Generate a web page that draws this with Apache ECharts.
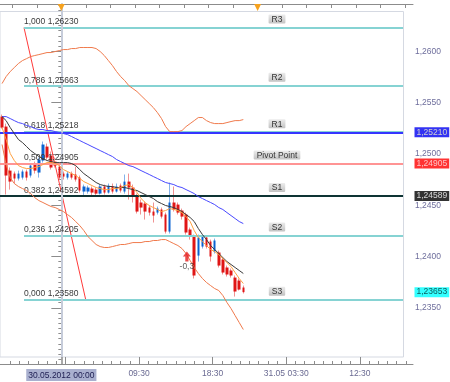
<!DOCTYPE html>
<html><head><meta charset="utf-8">
<script src="https://cdn.jsdelivr.net/npm/echarts@6/dist/echarts.min.js"></script>
<style>html,body{margin:0;padding:0;background:#fff}#c{width:450px;height:382px}</style>
</head><body><div id="c"></div>
<script>
// X values: hours relative to 30.05.2012 00:00; M30 bars, plotted at bar midpoints
const firstBarMid = -7.25;
const barHours = 0.5;

const opens = [1.25363,1.25266,1.24837,1.24808,1.24760,1.24769,1.24828,1.24789,1.24896,1.24818,
1.24935,1.25071,1.24984,1.24925,1.24876,1.24808,1.24769,1.24808,1.24799,1.24769,
1.24633,1.24633,1.24662,1.24652,1.24613,1.24682,1.24623,1.24682,1.24633,1.24691,
1.24633,1.24730,1.24672,1.24584,1.24526,1.24516,1.24477,1.24438,1.24428,1.24458,
1.24409,1.24243,1.24526,1.24506,1.24448,1.24409,1.24263,1.24195,1.24009,1.24097,
1.24185,1.24146,1.24048,1.24039,1.23971,1.23893,1.23864,1.23795,1.23766,1.23698];
const closes = [1.25256,1.24789,1.24730,1.24760,1.24808,1.24828,1.24769,1.24886,1.24837,1.24945,
1.25091,1.24964,1.24867,1.24886,1.24769,1.24779,1.24808,1.24769,1.24750,1.24643,
1.24682,1.24672,1.24623,1.24613,1.24682,1.24623,1.24691,1.24633,1.24682,1.24643,
1.24730,1.24672,1.24584,1.24438,1.24477,1.24438,1.24428,1.24399,1.24467,1.24389,
1.24243,1.24526,1.24458,1.24428,1.24389,1.24234,1.24195,1.23815,1.24185,1.24195,
1.24097,1.24000,1.24156,1.23912,1.23844,1.23825,1.23815,1.23659,1.23678,1.23653];
const lows = [1.25247,1.24604,1.24652,1.24711,1.24740,1.24750,1.24740,1.24769,1.24808,1.24769,
1.24915,1.24945,1.24847,1.24867,1.24750,1.24750,1.24750,1.24750,1.24730,1.24623,
1.24594,1.24613,1.24594,1.24584,1.24604,1.24604,1.24613,1.24613,1.24623,1.24623,
1.24613,1.24555,1.24526,1.24419,1.24409,1.24360,1.24399,1.24331,1.24409,1.24370,
1.24224,1.24224,1.24438,1.24409,1.24360,1.24214,1.24165,1.23786,1.23951,1.24078,
1.24078,1.23951,1.24029,1.23893,1.23825,1.23805,1.23795,1.23610,1.23669,1.23640];
const highs = [1.25383,1.25295,1.24867,1.24828,1.24837,1.24847,1.24847,1.24906,1.24925,1.24964,
1.25120,1.25101,1.25023,1.24964,1.24906,1.24828,1.24828,1.24828,1.24876,1.24789,
1.24701,1.24691,1.24682,1.24672,1.24701,1.24701,1.24711,1.24711,1.24711,1.24711,
1.24799,1.24808,1.24701,1.24613,1.24555,1.24535,1.24497,1.24526,1.24487,1.24477,
1.24428,1.24721,1.24682,1.24526,1.24467,1.24428,1.24282,1.24214,1.24214,1.24214,
1.24204,1.24165,1.24175,1.24058,1.23990,1.23912,1.23883,1.23815,1.23786,1.23717];

const maBlack = [1.25363,1.25324,1.25256,1.25198,1.25140,1.25110,1.25071,1.25032,1.25003,1.24974,
1.24954,1.24935,1.24925,1.24915,1.24915,1.24915,1.24915,1.24906,1.24886,1.24847,
1.24808,1.24779,1.24750,1.24721,1.24701,1.24691,1.24682,1.24682,1.24672,1.24672,
1.24672,1.24662,1.24652,1.24643,1.24623,1.24604,1.24584,1.24565,1.24535,1.24516,
1.24497,1.24487,1.24477,1.24458,1.24438,1.24409,1.24380,1.24341,1.24273,1.24214,
1.24165,1.24107,1.24068,1.24029,1.23990,1.23951,1.23922,1.23893,1.23864,1.23835];
const maOrange = [1.25256,1.25140,1.25003,1.24935,1.24886,1.24867,1.24857,1.24857,1.24867,1.24876,
1.24896,1.24915,1.24915,1.24906,1.24886,1.24847,1.24828,1.24808,1.24789,1.24760,
1.24730,1.24711,1.24691,1.24672,1.24662,1.24652,1.24652,1.24662,1.24662,1.24672,
1.24691,1.24701,1.24672,1.24623,1.24565,1.24526,1.24497,1.24477,1.24458,1.24438,
1.24448,1.24467,1.24458,1.24448,1.24428,1.24389,1.24341,1.24253,1.24185,1.24146,
1.24107,1.24068,1.24048,1.24019,1.23980,1.23941,1.23902,1.23844,1.23786,1.23737];
const maBlue = [1.25363,1.25363,1.25344,1.25324,1.25305,1.25295,1.25276,1.25266,1.25247,1.25237,
1.25237,1.25227,1.25227,1.25217,1.25208,1.25198,1.25188,1.25169,1.25149,1.25130,
1.25110,1.25091,1.25071,1.25052,1.25032,1.25013,1.24993,1.24974,1.24945,1.24925,
1.24906,1.24886,1.24876,1.24857,1.24837,1.24818,1.24799,1.24779,1.24760,1.24740,
1.24721,1.24711,1.24701,1.24682,1.24672,1.24652,1.24633,1.24613,1.24584,1.24565,
1.24545,1.24526,1.24506,1.24477,1.24458,1.24428,1.24399,1.24370,1.24341,1.24321];
const bandUpper = [1.25685,1.25753,1.25802,1.25841,1.25880,1.25909,1.25928,1.25948,1.25958,1.25967,
1.25977,1.25987,1.25987,1.25997,1.26006,1.26016,1.26016,1.26026,1.26026,1.26036,
1.26036,1.26036,1.26036,1.26026,1.25997,1.25958,1.25909,1.25860,1.25802,1.25753,
1.25714,1.25665,1.25636,1.25607,1.25568,1.25529,1.25490,1.25451,1.25402,1.25344,
1.25266,1.25217,1.25217,1.25217,1.25227,1.25266,1.25295,1.25324,1.25354,1.25354,
1.25324,1.25305,1.25295,1.25295,1.25295,1.25305,1.25315,1.25324,1.25324,1.25334];
const bandLower = [1.25091,1.24896,1.24769,1.24711,1.24682,1.24662,1.24643,1.24613,1.24574,1.24545,
1.24526,1.24506,1.24487,1.24477,1.24458,1.24438,1.24409,1.24380,1.24341,1.24302,
1.24253,1.24195,1.24156,1.24117,1.24097,1.24088,1.24088,1.24097,1.24107,1.24117,
1.24117,1.24126,1.24136,1.24136,1.24136,1.24146,1.24146,1.24156,1.24156,1.24165,
1.24165,1.24146,1.24126,1.24107,1.24078,1.24029,1.23961,1.23893,1.23835,1.23786,
1.23747,1.23717,1.23688,1.23669,1.23620,1.23552,1.23493,1.23425,1.23357,1.23289];

const fibRatios = ['1,000','0,786','0,618','0,500','0,382','0,236','0,000'];
const fibPrices = [1.26230,1.25663,1.25218,1.24905,1.24592,1.24205,1.23580];
const fibAnchors = [[-4.565,1.26230],[2.98,1.23580]];
const pivotNames = ['R3','R2','R1','Pivot Point','S1','S2','S3'];
const pivotPrices = [1.26230,1.25663,1.25210,1.24905,1.24589,1.24205,1.23580];
const tagValues = [1.25210,1.24905,1.24589,1.23653];
const yTickValues = [1.2350,1.2400,1.2450,1.2500,1.2550,1.2600];
const xTickValues = [0,9.5,18.5,27.5,36.5];
const xTickLabels = ['30.05.2012 00:00','09:30','18:30','31.05 03:30','12:30'];
const dayStarts = [0,24];
const signal = {t:15.35, price:1.24000, text:'-0,3'};

// layout constants
const X_MIN = -7.5, X_MAX = 43, FRAME_END = 41.78, PIV_LABEL_START = 10.96;
const Y_MIN = 1.22953, Y_MAX = 1.2646, FRAME_BOTTOM = 1.23021;
const FONT = 'Liberation Sans, Arial, sans-serif';
const CLEAR = 'rgba(0,0,0,0)';

const times = opens.map((_, i) => firstBarMid + barHours * i);
const fmt5 = v => v.toFixed(5).replace('.', ',');

const majorXTicks = [0.5, 9.5, 18.5, 27.5, 36.5];
const minorXTicks = []; for (let n = -14; n <= 29; n++) minorXTicks.push(9.5 + 1.125 * n);
const topTicks = []; for (let t = -6; t <= 42; t += 3) topTicks.push(t);
const yMinor = []; for (let v = 1.2300; v <= 1.2646; v += 0.0005) yMinor.push(+v.toFixed(4));

const boxBg = {type:'linear',x:0,y:0,x2:0,y2:1,colorStops:[{offset:0,color:'#ececec'},{offset:1,color:'#c2c2c2'}]};

const ml = [];
// fibonacci levels
fibPrices.forEach((p, i) => {
  ml.push([{coord:[fibAnchors[0][0], p], lineStyle:{color:'#86d3d3', width:2, type:'solid'},
    label:{show:true, position:'insideStartTop', distance:[0,1], formatter: fibRatios[i] + ' ' + fmt5(p),
      color:'#3a3a3a', fontSize:8.5, fontFamily:FONT}},
    {coord:[FRAME_END, p]}]);
});
// coloured pivot lines
const pivColors = {2:'#3535ff', 3:'#ff9494', 4:'#0e3434'};
Object.keys(pivColors).forEach(k => {
  const p = pivotPrices[k];
  ml.push([{coord:[X_MIN, p], lineStyle:{color:pivColors[k], width:2, type:'solid'}}, {coord:[FRAME_END, p]}]);
});
// pivot name boxes
pivotNames.forEach((n, i) => {
  const p = pivotPrices[i];
  ml.push([{coord:[PIV_LABEL_START, p], lineStyle:{color:CLEAR, width:1},
    label:{show:true, position:'insideMiddleTop', distance:[0,4], formatter:n, backgroundColor:boxBg,
      padding:[1,3,0,3], lineHeight:8, color:'#333', fontSize:8.5, fontFamily:FONT, borderRadius:1}},
    {coord:[FRAME_END, p]}]);
});
// vertical line at 30.05 00:00
ml.push([{coord:[0, Y_MAX], lineStyle:{color:'#c6ccda', width:2, type:'solid'}}, {coord:[0, FRAME_BOTTOM]}]);

// price tags on the right axis
const tagStyles = [{bg:'#0000f0', fg:'#f4f4c8'}, {bg:'#ff0000', fg:'#ffe8e8'}, {bg:'#000000', fg:'#ffffff'}, {bg:'#00ffff', fg:'#003030'}];

const lineSeries = (name, arr, color) => ({
  name, type:'line', data: times.map((t, i) => [t, arr[i]]), symbol:'none', z:5, silent:true,
  lineStyle:{color, width:1}
});

const option = {
  animation:false,
  backgroundColor:'#ffffff',
  grid:{left:0, right:37, top:4, bottom:18, containLabel:false, outerBoundsMode:'none'},
  graphic:[{type:'rect', shape:{x:0, y:11.5, width:403.5, height:345.5}, style:{fill:'transparent', stroke:'#d5d9e2', lineWidth:1}, z:0, silent:true}],
  xAxis:[
    {type:'value', position:'bottom', min:X_MIN, max:X_MAX,
     axisLine:{show:true, lineStyle:{color:'#8c8c8c'}},
     axisTick:{show:true, inside:true, length:7, customValues:majorXTicks, lineStyle:{color:'#8c8c8c'}},
     axisLabel:{show:true, customValues:xTickValues, margin:5, color:'#6a6a92', fontSize:8.5, fontFamily:FONT,
       formatter: v => { const i = xTickValues.findIndex(x => Math.abs(x - v) < 1e-6); if (i < 0) return ''; return i === 0 ? '{hl|' + xTickLabels[i] + '}' : xTickLabels[i]; },
       rich:{hl:{backgroundColor:'#a9b0cf', color:'#1c1c50', padding:[2,2,1,2], fontSize:8.5, fontFamily:FONT}}},
     splitLine:{show:false}},
    {type:'value', position:'top', min:X_MIN, max:X_MAX,
     axisLine:{show:true, lineStyle:{color:'#8c8c8c'}},
     axisTick:{show:true, inside:true, length:4, customValues:topTicks, lineStyle:{color:'#8c8c8c'}},
     axisLabel:{show:false}, splitLine:{show:false}},
    {type:'value', position:'bottom', min:X_MIN, max:X_MAX,
     axisLine:{show:false},
     axisTick:{show:true, inside:true, length:3, customValues:minorXTicks, lineStyle:{color:'#8c8c8c'}},
     axisLabel:{show:false}, splitLine:{show:false}}
  ],
  yAxis:[
    {type:'value', position:'right', min:Y_MIN, max:Y_MAX,
     axisLine:{show:true, lineStyle:{color:'#8c8c8c', width:1.5}},
     axisTick:{show:true, inside:true, length:10, customValues:yTickValues, lineStyle:{color:'#8c8c8c'}},
     axisLabel:{show:true, customValues:yTickValues, margin:2, color:'#6e6e9c', fontSize:8.5, fontFamily:FONT,
       formatter: v => v.toFixed(4).replace('.', ',')},
     splitLine:{show:false}},
    {type:'value', position:'right', min:Y_MIN, max:Y_MAX,
     axisLine:{show:false},
     axisTick:{show:true, inside:true, length:3, customValues:yMinor, lineStyle:{color:'#8c8c8c'}},
     axisLabel:{show:false}, splitLine:{show:false}}
  ],
  series:[
    {name:'Fibo', type:'line', data:fibAnchors, symbol:'none', z:1, clip:false, silent:true,
     lineStyle:{color:'#ff3a3a', width:1},
     markLine:{symbol:['none','none'], silent:true, animation:false, label:{show:false}, data:ml},
     markPoint:{silent:true, animation:false, label:{show:false},
       data: dayStarts.map(t => ({coord:[t, Y_MAX], symbol:'triangle', symbolRotate:180, symbolSize:[7,7], symbolOffset:[0,3.5], itemStyle:{color:'#f6a21e'}}))}},
    {name:'wick', type:'candlestick', z:3, silent:true, barWidth:1,
     data: times.map((t, i) => [t, opens[i], closes[i], lows[i], highs[i]]),
     itemStyle:{color:CLEAR, color0:CLEAR, borderColor:'#84b2ea', borderColor0:'#f09292', borderWidth:1}},
    {name:'body', type:'candlestick', z:4, silent:true, barWidth:3,
     data: times.map((t, i) => [t, opens[i], closes[i], Math.min(opens[i], closes[i]), Math.max(opens[i], closes[i])]),
     itemStyle:{color:'#0a62d0', color0:'#e01515', borderColor:'#0a62d0', borderColor0:'#e01515', borderWidth:0}},
    lineSeries('bbUpper', bandUpper, '#f07a4c'),
    lineSeries('bbLower', bandLower, '#f07a4c'),
    lineSeries('maBlue', maBlue, '#4848ff'),
    lineSeries('maBlack', maBlack, '#3a3a3a'),
    lineSeries('maOrange', maOrange, '#ffa040'),
    {name:'signal', type:'scatter', z:8, silent:true, clip:false,
     data:[[signal.t, signal.price]], symbol:'path://M5,0 L10,5 L7,5 L7,10 L3,10 L3,5 L0,5 Z', symbolSize:[8,10],
     itemStyle:{color:'#e31b1b'},
     label:{show:true, position:'bottom', distance:1, formatter:signal.text, color:'#333', fontSize:8.5, fontFamily:FONT}},
    {name:'tags', type:'scatter', z:9, silent:true, clip:false, symbolSize:1, itemStyle:{color:CLEAR},
     data: tagValues.map((v, i) => ({value:[X_MAX, v],
       label:{show:true, position:'right', distance:1, formatter:fmt5(v), backgroundColor:tagStyles[i].bg,
         color:tagStyles[i].fg, padding:[1,2,0,2], fontSize:8.5, fontFamily:FONT}}))}
  ]
};
echarts.init(document.getElementById('c')).setOption(option);
</script>
</body></html>
